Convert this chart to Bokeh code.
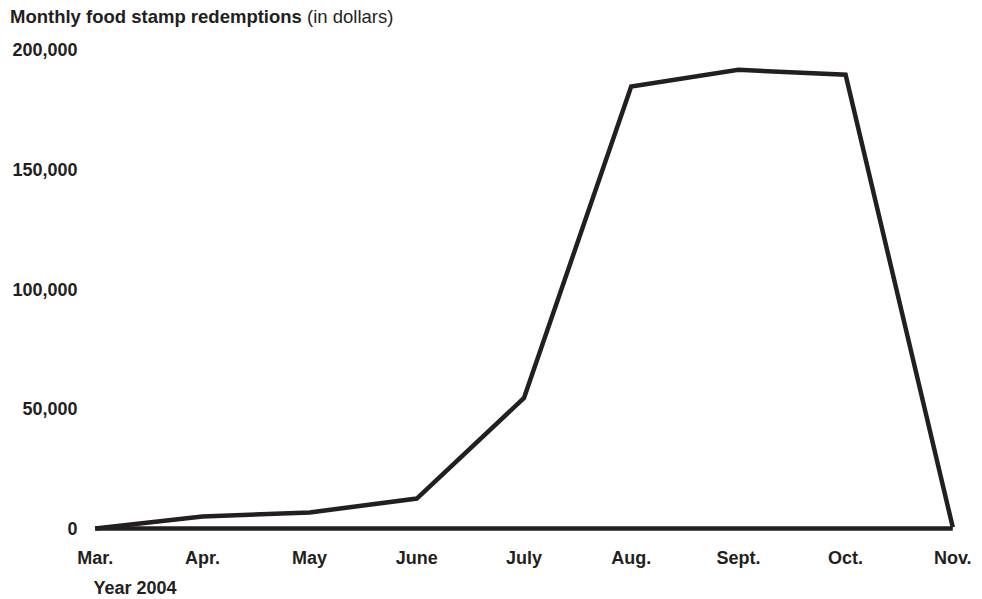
from bokeh.plotting import figure
from bokeh.models import FixedTicker, NumeralTickFormatter, Range1d, Title, Div
from bokeh.layouts import column
from bokeh.embed import file_html
from bokeh.resources import INLINE

months = ["Mar.", "Apr.", "May", "June", "July", "Aug.", "Sept.", "Oct.", "Nov."]
redemptions = [0, 5000, 6700, 12500, 54500, 184500, 191500, 189500, 500]
y_ticks = [0, 50000, 100000, 150000, 200000]
title_bold = "Monthly food stamp redemptions"
title_unit = "(in dollars)"
x_title = "Year 2004"

INK = "#231f20"
FONT = "Liberation Sans"

xs = list(range(len(months)))

head = Div(text=f"<b>{title_bold}</b> {title_unit}", width=982, height=25,
           styles={"font-family": FONT, "font-size": "18.5px", "color": INK,
                   "padding-left": "5px", "padding-top": "1px",
                   "line-height": "22px", "white-space": "nowrap"})

p = figure(width=982, height=567, output_backend="svg", toolbar_location=None,
           x_range=Range1d(-0.1, len(months) - 1 + 0.1),
           y_range=Range1d(-2917, 202917),
           min_border_left=84, min_border_right=19,
           min_border_top=7, min_border_bottom=66)
p.outline_line_color = None
p.xgrid.visible = False
p.ygrid.visible = False
p.background_fill_color = "white"
p.border_fill_color = "white"

# baseline along zero
p.line(x=[xs[0], xs[-1]], y=[y_ticks[0], y_ticks[0]], line_color=INK, line_width=4.5)
# data line
p.line(x=xs, y=redemptions, line_color=INK, line_width=4.5, line_join="miter")

# axes
p.xaxis.ticker = FixedTicker(ticks=xs)
p.xaxis.major_label_overrides = {i: m for i, m in enumerate(months)}
p.yaxis.ticker = FixedTicker(ticks=y_ticks)
p.yaxis.formatter = NumeralTickFormatter(format="0,0")
for ax in (p.xaxis[0], p.yaxis[0]):
    ax.axis_line_color = None
    ax.major_tick_line_color = None
    ax.minor_tick_line_color = None
    ax.major_tick_out = 0
    ax.major_tick_in = 0
    ax.major_label_text_font = FONT
    ax.major_label_text_font_style = "bold"
    ax.major_label_text_font_size = "18px"
    ax.major_label_text_color = INK
p.yaxis.major_label_standoff = 7
p.xaxis.major_label_standoff = 12

p.add_layout(Title(text=x_title, align="left", offset=9, standoff=10,
                   text_font=FONT, text_font_style="bold", text_font_size="18px",
                   text_color=INK), "below")

layout = column(head, p, spacing=0)
open("out.html", "w").write(file_html(layout, INLINE))
